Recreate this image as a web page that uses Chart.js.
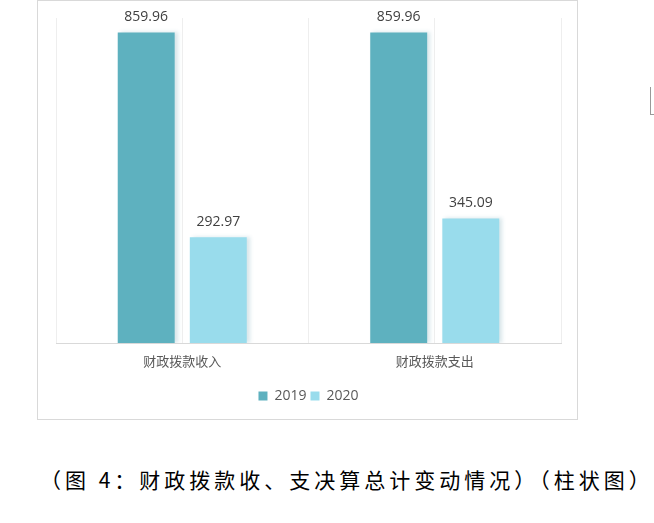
<!DOCTYPE html>
<html>
<head>
<meta charset="utf-8">
<script src="https://cdn.jsdelivr.net/npm/chart.js@4.4.1/dist/chart.umd.min.js"></script>
<style>
  html, body { margin: 0; padding: 0; background: #fff; }
  body { width: 654px; height: 523px; position: relative; overflow: hidden; }
  #box {
    position: absolute; left: 37px; top: 0; width: 539px; height: 418px;
    border: 1px solid #d9d9d9;
  }
  #box canvas { display: block; }
  #caption {
    position: absolute; left: 40px; top: 464px; white-space: nowrap;
    font-family: "Noto Sans CJK SC", sans-serif; font-size: 21px;
    letter-spacing: 4px; color: #000; line-height: 30px;
  }
  #mark {
    position: absolute; left: 650px; top: 87px; width: 4px; height: 27px;
    border-left: 1px solid #999; border-bottom: 1px solid #999;
  }
</style>
</head>
<body>
<div id="box"><canvas id="budgetChart" width="539" height="418"></canvas></div>
<div id="mark"></div>
<div id="caption">（图 4：财政拨款收、支决算总计变动情况）（柱状图）</div>
<script>
const categories = ['财政拨款收入', '财政拨款支出'];
const values2019 = [859.96, 859.96];
const values2020 = [292.97, 345.09];

// light drop shadow to the right of each bar
const barShadow = {
    id: 'barShadow',
    beforeDatasetsDraw(chart) {
        const ctx = chart.ctx;
        ctx.save();
        ctx.shadowColor = 'rgba(60, 130, 150, 0.2)';
        ctx.shadowBlur = 4;
        ctx.shadowOffsetX = 3;
        ctx.shadowOffsetY = 0;
    },
    afterDatasetsDraw(chart) {
        chart.ctx.restore();
    }
};

// value labels above the bars
const valueLabels = {
    id: 'valueLabels',
    afterDatasetsDraw(chart) {
        const ctx = chart.ctx;
        ctx.save();
        ctx.font = '14px "Open Sans", "Noto Sans", sans-serif';
        ctx.fillStyle = '#404040';
        ctx.textAlign = 'center';
        ctx.textBaseline = 'bottom';
        chart.data.datasets.forEach((ds, i) => {
            chart.getDatasetMeta(i).data.forEach((bar, j) => {
                ctx.fillText(ds.data[j].toFixed(2), bar.x, bar.y - 8);
            });
        });
        ctx.restore();
    }
};

const ctx = document.getElementById('budgetChart').getContext('2d');
new Chart(ctx, {
    type: 'bar',
    data: {
        labels: categories,
        datasets: [
            {
                label: '2019',
                data: values2019,
                backgroundColor: '#5eb1bf',
                categoryPercentage: 0.571,
                barPercentage: 0.79
            },
            {
                label: '2020',
                data: values2020,
                backgroundColor: '#99dcec',
                categoryPercentage: 0.571,
                barPercentage: 0.79
            }
        ]
    },
    options: {
        responsive: false,
        animation: false,
        layout: { padding: { left: 18, right: 16, top: 17, bottom: 6 } },
        scales: {
            x: {
                grid: { color: '#eeeeee', offset: true, drawTicks: false },
                border: { color: '#d9d9d9', width: 1 },
                ticks: {
                    color: '#595959',
                    padding: 10,
                    font: { size: 13, family: '"Noto Sans CJK SC", sans-serif' }
                },
                afterFit: (scale) => { scale.height = 42; }
            },
            xc: {
                type: 'category',
                labels: categories,
                position: 'top',
                offset: true,
                grid: { color: '#eeeeee', offset: false, drawTicks: false },
                border: { display: false },
                ticks: { display: false }
            },
            y: {
                display: false,
                min: 0,
                max: 900
            }
        },
        plugins: {
            legend: {
                position: 'bottom',
                labels: {
                    boxWidth: 9,
                    boxHeight: 9,
                    padding: 4,
                    color: '#595959',
                    font: { size: 14, family: '"Open Sans", "Noto Sans", sans-serif' }
                }
            },
            tooltip: { enabled: false }
        }
    },
    plugins: [barShadow, valueLabels]
});
</script>
</body>
</html>
